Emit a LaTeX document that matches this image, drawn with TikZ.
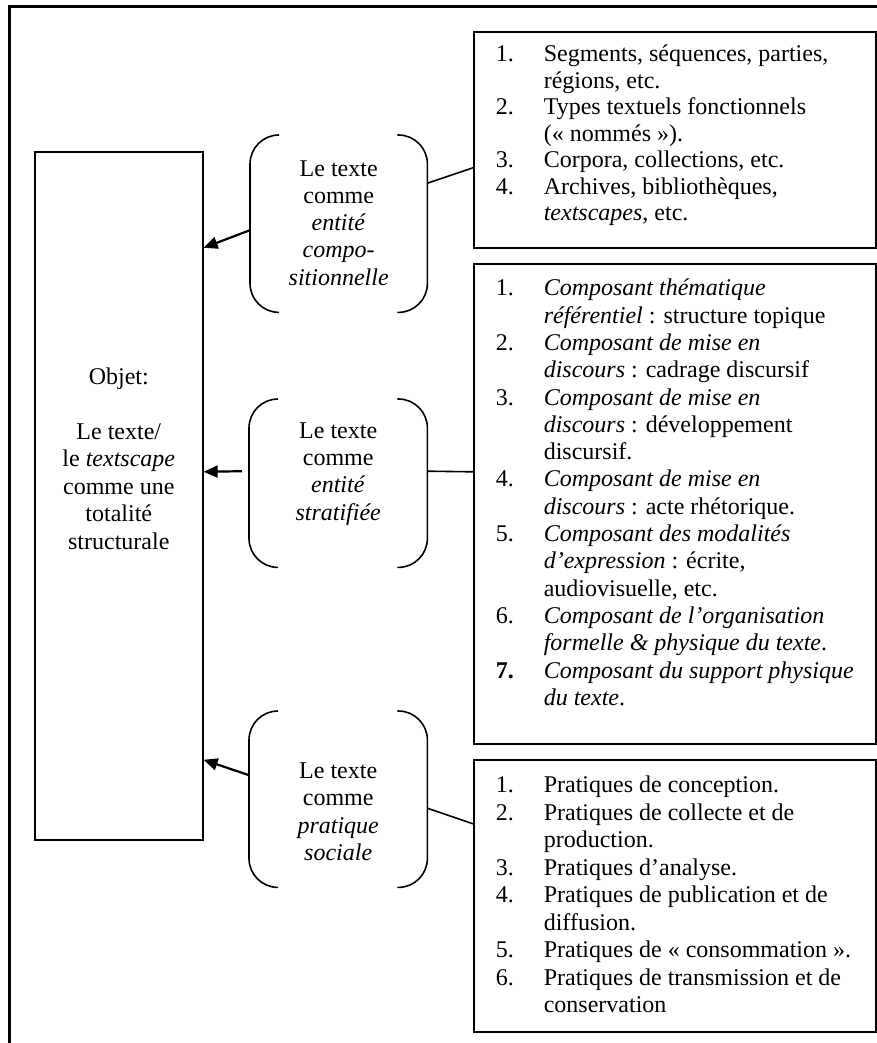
\documentclass[tikz,border=0pt]{standalone}
\usepackage{fontspec}
\setmainfont{Liberation Serif}
\usetikzlibrary{arrows.meta,calc}

% width, height, gap above first line, line skip, content
\newcommand{\boxtext}[5]{\parbox[t][#2][t]{#1}{\fontsize{24}{#4}\selectfont\vspace*{#3}#5}}

\tikzset{
  framebox/.style={draw,line width=1.6pt,inner sep=0pt,anchor=north west},
  bracebox/.style={inner sep=0pt,anchor=north west},
  tiearrow/.style={line width=2.2pt,-{Triangle[length=14pt,width=12pt]}},
  tieline/.style={line width=1.6pt},
}

\begin{document}
\begin{tikzpicture}[x=1pt,y=-1pt]
\useasboundingbox (0,0) rectangle (877,1043);
%frame
\draw[line width=2.6pt] (877,6.5) -| (9.5,1043);

%object
\node[framebox] (objet) at (34,151) {\boxtext{168pt}{688pt}{213pt}{27.5pt}{\centering
  \begin{tabular}[t]{@{}c@{}}Objet:\\ \\Le texte/\\le \textit{textscape}\\comme une\\totalité\\structurale\end{tabular}\par}};

%braces
\node[bracebox] (compo) at (250,135) {\boxtext{177pt}{177pt}{22pt}{27.2pt}{\centering
  \begin{tabular}[t]{@{}c@{}}Le texte\\comme\\\textit{entité}\\\textit{compo-}\\\textit{sitionnelle}\end{tabular}\par}};
\node[bracebox] (strat) at (249,399) {\boxtext{178pt}{168pt}{20pt}{27.3pt}{\centering
  \begin{tabular}[t]{@{}c@{}}Le texte\\comme\\\textit{entité}\\\textit{stratifiée}\end{tabular}\par}};
\node[bracebox] (prat) at (249,711) {\boxtext{178pt}{176pt}{48pt}{27.5pt}{\centering
  \begin{tabular}[t]{@{}c@{}}Le texte\\comme\\\textit{pratique}\\\textit{sociale}\end{tabular}\par}};

\foreach \b in {compo,strat,prat}{
  \draw[tieline,rounded corners=29pt] ([xshift=29pt]\b.north west) -- (\b.north west) -- (\b.south west) -- ([xshift=29pt]\b.south west);
  \draw[tieline,rounded corners=29pt] ([xshift=-30pt]\b.north east) -- (\b.north east) -- (\b.south east) -- ([xshift=-30pt]\b.south east);
}

%lists
\node[framebox] (seglist) at (473,31) {\boxtext{402pt}{216pt}{11.2pt}{26.5pt}{\hspace*{22pt}%
  \begin{tabular}[t]{@{}p{48pt}@{}l@{}}
  1. & Segments, séquences, parties,\\
     & régions, etc.\\
  2. & Types textuels fonctionnels\\
     & (« nommés »).\\
  3. & Corpora, collections, etc.\\
  4. & Archives, bibliothèques,\\
     & \textit{textscapes}, etc.
  \end{tabular}}};
\node[framebox] (stratlist) at (473,263) {\boxtext{402pt}{480pt}{12.9pt}{27.3pt}{\hspace*{22pt}%
  \begin{tabular}[t]{@{}p{48pt}@{}l@{}}
  1. & \textit{Composant thématique}\\
     & \textit{référentiel} : structure topique\\
  2. & \textit{Composant de mise en}\\
     & \textit{discours} : cadrage discursif\\
  3. & \textit{Composant de mise en}\\
     & \textit{discours} : développement\\
     & discursif.\\
  4. & \textit{Composant de mise en}\\
     & \textit{discours} : acte rhétorique.\\
  5. & \textit{Composant des modalités}\\
     & \textit{d’expression} : écrite,\\
     & audiovisuelle, etc.\\
  6. & \textit{Composant de l’organisation}\\
     & \textit{formelle \& physique du texte}.\\
  \textbf{7.} & \textit{Composant du support physique}\\
     & \textit{du texte}.
  \end{tabular}}};
\node[framebox] (pratlist) at (473,759) {\boxtext{402pt}{272pt}{13.75pt}{27.5pt}{\hspace*{22pt}%
  \begin{tabular}[t]{@{}p{48pt}@{}l@{}}
  1. & Pratiques de conception.\\
  2. & Pratiques de collecte et de\\
     & production.\\
  3. & Pratiques d’analyse.\\
  4. & Pratiques de publication et de\\
     & diffusion.\\
  5. & Pratiques de « consommation ».\\
  6. & Pratiques de transmission et de\\
     & conservation
  \end{tabular}}};

%arrows
\draw[tiearrow] ($(compo.west)+(0,6.5)$) -- ($(objet.east)+(0,-248)$);
\draw[tiearrow] ($(strat.west)+(-7,-12)$) -- ($(objet.east)+(0,-24)$);
\draw[tiearrow] ($(prat.west)+(0,-24)$) -- ($(objet.east)+(0,264)$);

%links
\draw[tieline] ($(compo.east)+(0,-40.5)$) -- ($(seglist.west)+(0,28)$);
\draw[tieline] ($(strat.east)+(0,-12)$) -- ($(stratlist.west)+(0,-32)$);
\draw[tieline] ($(prat.east)+(0,9)$) -- ($(pratlist.west)+(0,-72)$);
\end{tikzpicture}
\end{document}
